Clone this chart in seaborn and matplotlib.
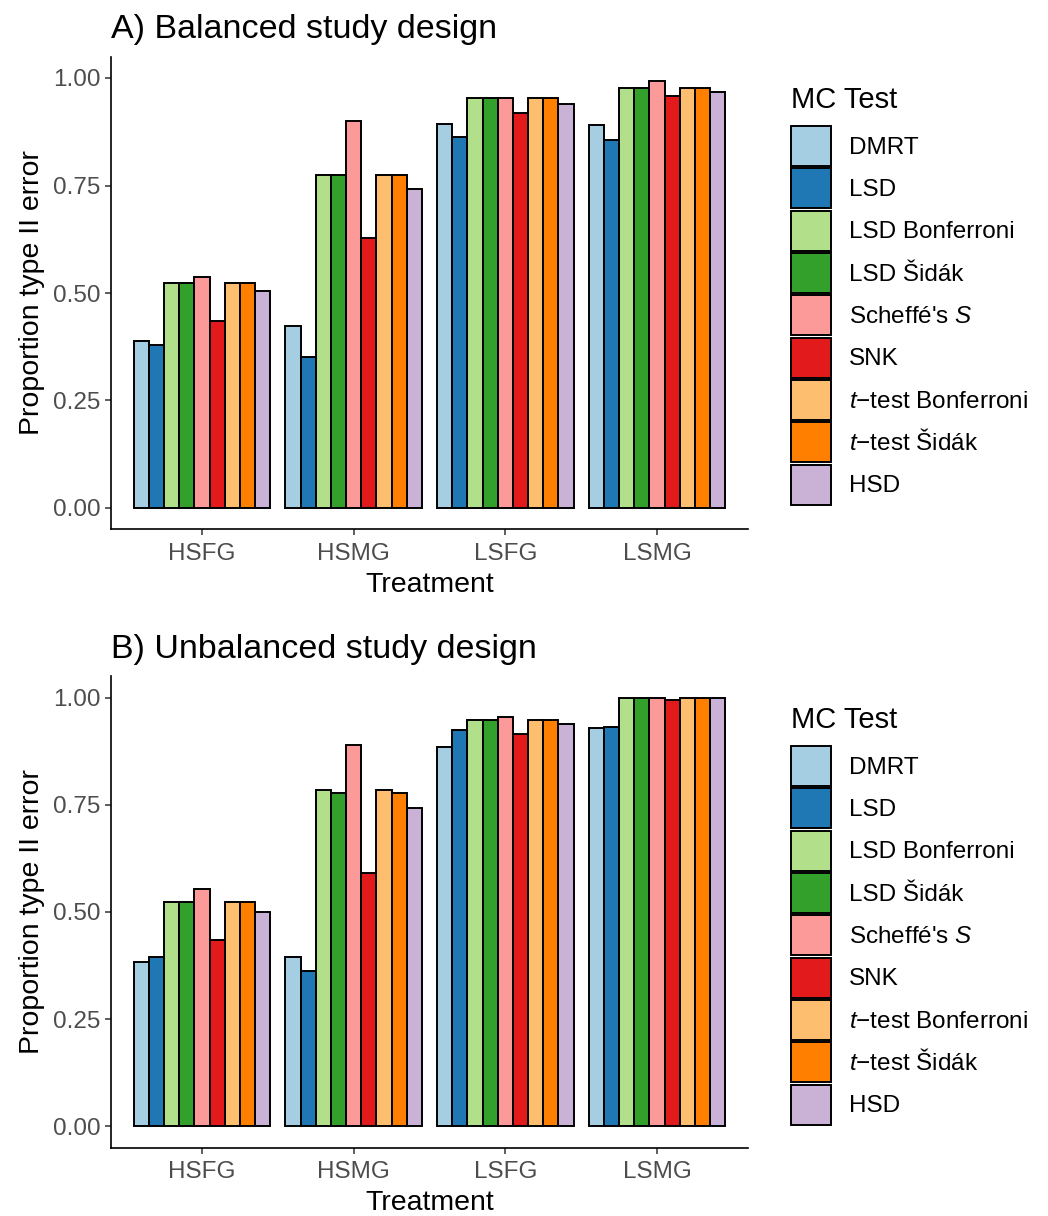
"""Proportion of type II error per treatment and multiple-comparison test."""

import matplotlib

matplotlib.use("Agg")
import matplotlib.pyplot as plt
import pandas as pd
import seaborn as sns
from matplotlib.patches import Patch

treatments = ["HSFG", "HSMG", "LSFG", "LSMG"]
tests = [
    "DMRT",
    "LSD",
    "LSD Bonferroni",
    "LSD Šidák",
    "Scheffé's $S$",
    "SNK",
    "$t$\u2212test Bonferroni",
    "$t$\u2212test Šidák",
    "HSD",
]
colors = ["#A6CEE3", "#1F78B4", "#B2DF8A", "#33A02C", "#FB9A99",
          "#E31A1C", "#FDBF6F", "#FF7F00", "#CAB2D6"]

# one list per treatment, values in the order of `tests`
balanced = {
    "HSFG": [0.388, 0.379, 0.524, 0.524, 0.538, 0.435, 0.524, 0.524, 0.505],
    "HSMG": [0.424, 0.352, 0.775, 0.775, 0.901, 0.629, 0.775, 0.775, 0.742],
    "LSFG": [0.894, 0.863, 0.953, 0.953, 0.953, 0.919, 0.953, 0.953, 0.939],
    "LSMG": [0.891, 0.856, 0.977, 0.977, 0.994, 0.958, 0.977, 0.977, 0.968],
}
unbalanced = {
    "HSFG": [0.383, 0.394, 0.524, 0.524, 0.554, 0.434, 0.524, 0.524, 0.500],
    "HSMG": [0.396, 0.362, 0.784, 0.779, 0.890, 0.592, 0.784, 0.779, 0.742],
    "LSFG": [0.885, 0.924, 0.949, 0.949, 0.955, 0.915, 0.949, 0.949, 0.939],
    "LSMG": [0.929, 0.932, 0.999, 0.999, 0.999, 0.996, 0.999, 0.999, 0.999],
}


def to_long(values):
    rows = []
    for trt in treatments:
        for test, v in zip(tests, values[trt]):
            rows.append({"Treatment": trt, "test": test, "value": v})
    return pd.DataFrame(rows)


sns.set_style("ticks")
plt.rcParams["font.family"] = ["Liberation Sans", "DejaVu Sans"]
plt.rcParams["mathtext.fontset"] = "custom"
plt.rcParams["mathtext.rm"] = "Liberation Sans"
plt.rcParams["mathtext.it"] = "Liberation Sans:italic"
plt.rcParams["text.color"] = "black"
plt.rcParams["axes.labelcolor"] = "black"
plt.rcParams["axes.edgecolor"] = "black"

W, H = 1048, 1216
fig = plt.figure(figsize=(W / 100, H / 100), dpi=100)

panels = [
    ("A) Balanced study design", balanced, 56.5, 529.5),
    ("B) Unbalanced study design", unbalanced, 676.5, 1147.5),
]
palette = dict(zip(tests, colors))

for title, values, top_px, bot_px in panels:
    ax = fig.add_axes([111 / W, 1 - bot_px / H, 637 / W, (bot_px - top_px) / H])
    df = to_long(values)
    sns.barplot(data=df, x="Treatment", y="value", hue="test", hue_order=tests,
                order=treatments, palette=palette, width=0.9, gap=0,
                edgecolor="black", linewidth=1.4, saturation=1,
                errorbar=None, legend=False, ax=ax)
    ax.set_xlim(-0.6, 3.6)
    ax.set_ylim(-0.05, 1.05)
    ax.set_yticks([0, 0.25, 0.5, 0.75, 1.0])
    ax.set_yticklabels(["0.00", "0.25", "0.50", "0.75", "1.00"])
    ax.tick_params(labelsize=17.5, labelcolor="#4D4D4D", color="#333333",
                   length=4, width=1.1)
    ax.tick_params(axis="x", pad=6)
    sns.despine(ax=ax)
    for side in ("left", "bottom"):
        ax.spines[side].set_linewidth(1.2)
    ax.set_xlabel("Treatment", fontsize=20.5, labelpad=5)
    ax.set_ylabel("Proportion type II error", fontsize=20.5, labelpad=6)
    ax.set_title(title, loc="left", fontsize=24.5, pad=13)

    handles = [Patch(facecolor=c, edgecolor="black", linewidth=1.4) for c in colors]
    leg = ax.legend(handles, tests, title="MC Test", loc="upper left",
                    bbox_to_anchor=(791 / W, 1 - (top_px + 29) / H),
                    bbox_transform=fig.transFigure, frameon=False,
                    fontsize=17.5, title_fontsize=21, handlelength=1.65,
                    handleheight=2.15, handletextpad=0.72, labelspacing=0.1,
                    borderpad=0, borderaxespad=0, alignment="left")
    leg._legend_box.sep = 9

fig.savefig("out.png", dpi=100)
